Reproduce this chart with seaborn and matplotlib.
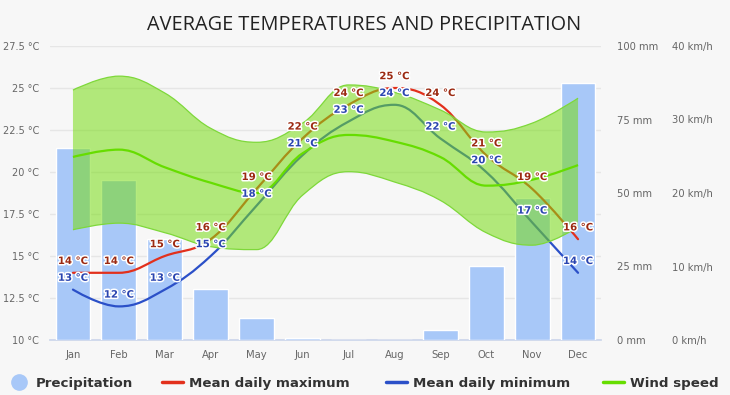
import numpy as np
import pandas as pd
import seaborn as sns
import matplotlib.pyplot as plt
import matplotlib.patheffects as pe
from matplotlib.path import Path
from matplotlib.patches import PathPatch
from matplotlib.lines import Line2D

# Data
months = ['Jan', 'Feb', 'Mar', 'Apr', 'May', 'Jun', 'Jul', 'Aug', 'Sep', 'Oct', 'Nov', 'Dec']
precip_mm = [65.3, 54.4, 34.4, 17.3, 7.5, 0.8, 0, 0, 3.4, 25.2, 48.3, 87.4]
temp_max = [14, 14, 15, 16, 19, 22, 24, 25, 24, 21, 19, 16]
temp_min = [13, 12, 13, 15, 18, 21, 23, 24, 22, 20, 17, 14]
wind_mean = [24.9, 25.9, 23.5, 21.4, 20.0, 25.4, 27.9, 27.0, 24.9, 21.0, 21.8, 23.8]
wind_high = [34.0, 35.9, 33.6, 28.8, 26.9, 29.5, 34.7, 33.7, 31.3, 28.3, 29.5, 32.9]
wind_low = [15.0, 15.9, 14.6, 12.7, 12.3, 19.7, 22.9, 21.5, 19.0, 14.6, 12.9, 15.4]

BG = '#f7f7f7'
RED = '#e2301c'
BLUE = '#2b50c8'
GREEN = '#66dd00'
BAR = '#a8c8f8'


def spline_path(xs, ys):
    # highcharts-style spline: bezier control points, the curve itself is drawn by matplotlib
    n = len(xs)
    lc = [(xs[i], ys[i]) for i in range(n)]
    rc = [(xs[i], ys[i]) for i in range(n)]
    for i in range(1, n - 1):
        x, y = xs[i], ys[i]
        lx = (1.5 * x + xs[i - 1]) / 2.5
        ly = (1.5 * y + ys[i - 1]) / 2.5
        rx = (1.5 * x + xs[i + 1]) / 2.5
        ry = (1.5 * y + ys[i + 1]) / 2.5
        corr = (ry - ly) * (rx - x) / (rx - lx) + y - ry
        ly += corr
        ry += corr
        if ly > ys[i - 1] and ly > y:
            ly = max(ys[i - 1], y); ry = 2 * y - ly
        elif ly < ys[i - 1] and ly < y:
            ly = min(ys[i - 1], y); ry = 2 * y - ly
        if ry > ys[i + 1] and ry > y:
            ry = max(ys[i + 1], y); ly = 2 * y - ry
        elif ry < ys[i + 1] and ry < y:
            ry = min(ys[i + 1], y); ly = 2 * y - ry
        lc[i] = (lx, ly)
        rc[i] = (rx, ry)
    verts = [(xs[0], ys[0])]
    codes = [Path.MOVETO]
    for i in range(1, n):
        verts += [rc[i - 1], lc[i], (xs[i], ys[i])]
        codes += [Path.CURVE4] * 3
    return verts, codes


sns.set_theme(style='white')
plt.rcParams['font.family'] = ['DejaVu Sans']

fig = plt.figure(figsize=(7.3, 3.95), dpi=100, facecolor=BG)
rect = [50 / 730, 55 / 395, 551 / 730, 294 / 395]
x = np.arange(len(months))

# temperature axis (left) with grid and month labels
ax_t = fig.add_axes(rect, facecolor=BG)
ax_t.set_xlim(-0.5, 11.5)
ax_t.set_ylim(10, 27.5)
temp_ticks = np.arange(10, 27.6, 2.5)
ax_t.set_yticks(temp_ticks)
ax_t.set_yticklabels([f'{v:g} °C' for v in temp_ticks])
ax_t.set_xticks(x)
ax_t.set_xticklabels(months)
ax_t.yaxis.grid(True, color='#e6e6e6', lw=1)
ax_t.set_axisbelow(True)
for s in ['top', 'left', 'right']:
    ax_t.spines[s].set_visible(False)
ax_t.spines['bottom'].set_color('#ccd6eb')
ax_t.tick_params(axis='y', length=0, pad=8, labelsize=7, labelcolor='#666666')
ax_t.tick_params(axis='x', length=0, pad=7, labelsize=7.2, labelcolor='#666666')

# precipitation bars
ax_p = ax_t.twinx()
df = pd.DataFrame({'month': months, 'precip': precip_mm})
sns.barplot(data=df, x='month', y='precip', order=months, color=BAR,
            saturation=1, width=0.76, ax=ax_p)
ax_p.set_xlim(-0.5, 11.5)
ax_p.set_ylim(0, 100)
ax_p.set_yticks([0, 25, 50, 75, 100])
ax_p.set_yticklabels([f'{v} mm' for v in [0, 25, 50, 75, 100]])
ax_p.set_ylabel('')
ax_p.set_xlabel('')
for s in ax_p.spines.values():
    s.set_visible(False)
ax_p.tick_params(axis='y', length=0, pad=11.5, labelsize=7.2, labelcolor='#666666')

# temperature lines
ax_l = fig.add_axes(rect, sharex=ax_t, sharey=ax_t)
ax_l.axis('off')
for vals, col in [(temp_max, RED), (temp_min, BLUE)]:
    v, c = spline_path(x, vals)
    ax_l.add_patch(PathPatch(Path(v, c), fill=False, edgecolor=col, lw=1.6,
                             capstyle='round'))

# wind speed band + mean
ax_w = ax_t.twinx()
ax_w.set_ylim(0, 40)
ax_w.set_yticks([0, 10, 20, 30, 40])
ax_w.set_yticklabels([f'{v} km/h' for v in [0, 10, 20, 30, 40]])
for s in ax_w.spines.values():
    s.set_visible(False)
ax_w.tick_params(axis='y', length=0, pad=51, labelsize=7.2, labelcolor='#666666')

vu, cu = spline_path(x, wind_high)
vl, cl = spline_path(x[::-1], wind_low[::-1])
band_v = vu + vl + [vu[0]]
band_c = cu + [Path.LINETO] + cl[1:] + [Path.CLOSEPOLY]
ax_w.add_patch(PathPatch(Path(band_v, band_c), facecolor='#78dc14', alpha=0.55,
                         edgecolor='none', zorder=2))
ax_w.add_patch(PathPatch(Path(vu, cu), fill=False, edgecolor='#7ed83a', lw=0.9, zorder=3))
ax_w.add_patch(PathPatch(Path(vl, cl), fill=False, edgecolor='#7ed83a', lw=0.9, zorder=3))
vm, cm = spline_path(x, wind_mean)
ax_w.add_patch(PathPatch(Path(vm, cm), fill=False, edgecolor=GREEN, lw=1.6, zorder=4))

# data labels on top of everything
outline = [pe.withStroke(linewidth=2.2, foreground='white')]
for vals, col in [(temp_max, '#9c2a12'), (temp_min, '#2a45b0')]:
    for i, v in enumerate(vals):
        ax_w.annotate(f'{v} °C', xy=(i, v), xycoords=ax_t.transData,
                      xytext=(0, 8.5), textcoords='offset points',
                      ha='center', va='center', fontsize=7.3, fontweight='bold',
                      color=col, path_effects=outline, zorder=6)

fig.text(364 / 730, 1 - 25 / 395, 'AVERAGE TEMPERATURES AND PRECIPITATION', ha='center',
         va='center', fontsize=14.3, family='Open Sans', color='#222222')

# legend, one entry at a time so spacing follows the original
entries = [
    (Line2D([], [], marker='o', ls='none', markersize=11, color=BAR), 'Precipitation', 8),
    (Line2D([], [], color=RED, lw=2.5), 'Mean daily maximum', 162),
    (Line2D([], [], color=BLUE, lw=2.5), 'Mean daily minimum', 386),
    (Line2D([], [], color=GREEN, lw=2.5), 'Wind speed', 603),
]
for h, lab, px in entries:
    leg = fig.legend([h], [lab], loc='center left', bbox_to_anchor=(px / 730, 1 - 383 / 395),
                     frameon=False, borderpad=0, borderaxespad=0, handlelength=1.6,
                     handletextpad=0.45, prop={'weight': 'bold', 'size': 9.6})
    for t in leg.get_texts():
        t.set_color('#333333')

fig.savefig('out.png', dpi=100, facecolor=BG)
